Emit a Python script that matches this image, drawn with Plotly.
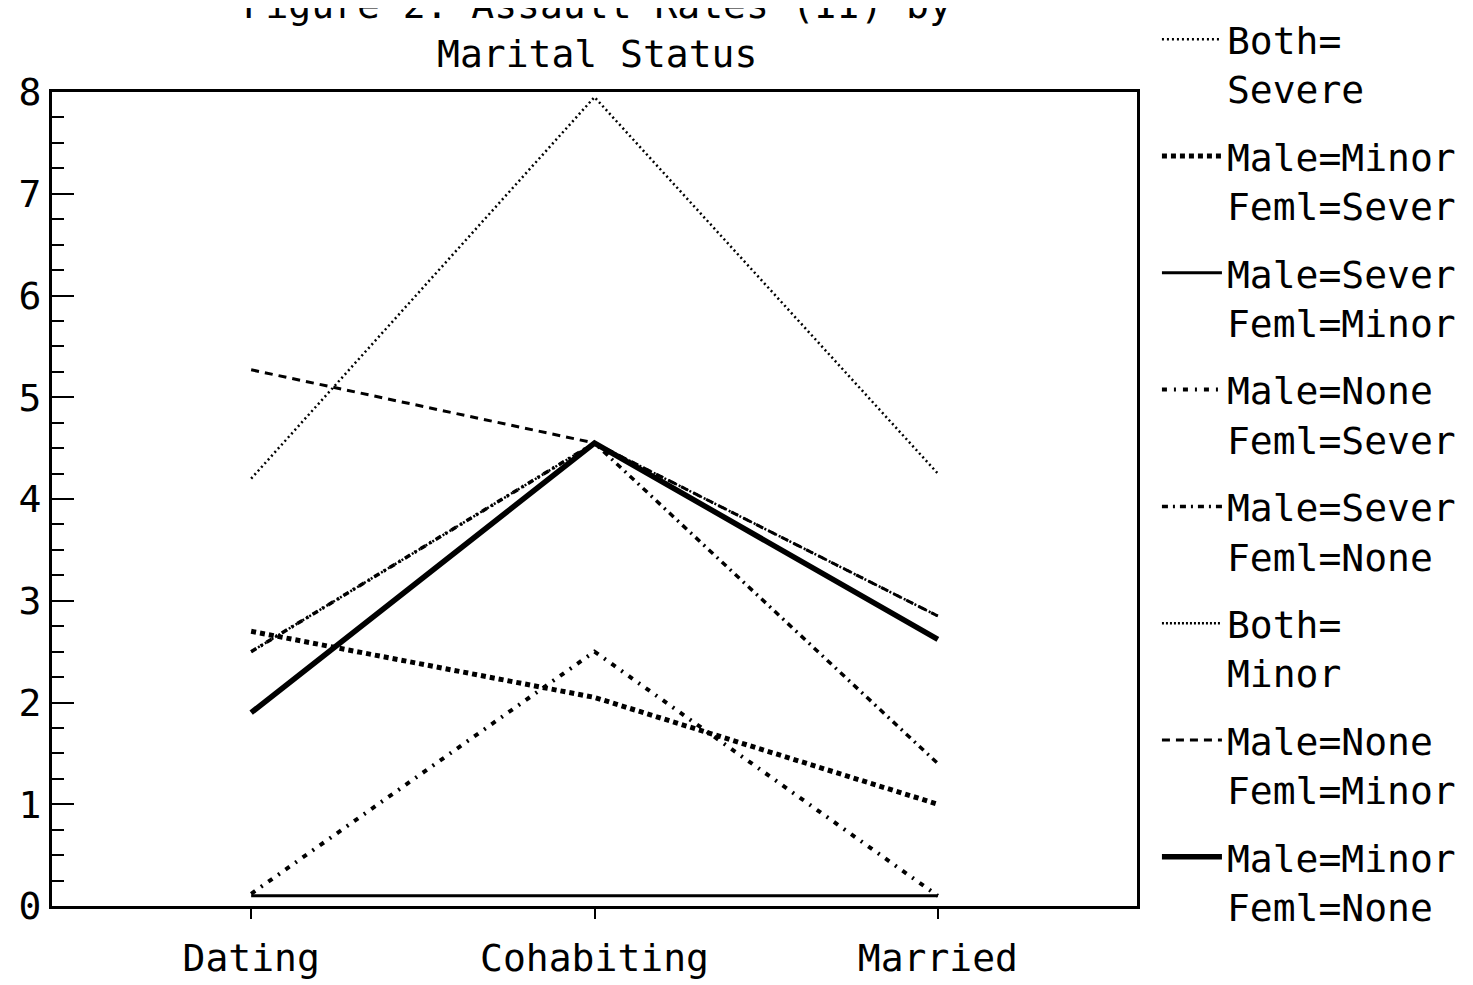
import plotly.graph_objects as go

categories = ["Dating", "Cohabiting", "Married"]
x_idx = [0, 1, 2]

series_names = [
    "Both=<br>Severe",
    "Male=Minor<br>Feml=Sever",
    "Male=Sever<br>Feml=Minor",
    "Male=None<br>Feml=Sever",
    "Male=Sever<br>Feml=None",
    "Both=<br>Minor",
    "Male=None<br>Feml=Minor",
    "Male=Minor<br>Feml=None",
]

both_severe = [4.2, 7.95, 4.25]
male_minor_feml_sever = [2.7, 2.05, 1.0]
male_sever_feml_minor = [0.1, 0.1, 0.1]
male_none_feml_sever = [0.12, 2.5, 0.1]
male_sever_feml_none = [2.5, 4.55, 1.4]
both_minor = [2.5, 4.55, 2.85]
male_none_feml_minor = [5.27, 4.55, 2.85]
male_minor_feml_none = [1.9, 4.55, 2.62]

series_values = [
    both_severe,
    male_minor_feml_sever,
    male_sever_feml_minor,
    male_none_feml_sever,
    male_sever_feml_none,
    both_minor,
    male_none_feml_minor,
    male_minor_feml_none,
]

line_styles = [
    dict(width=2.5, dash="2px,3px"),
    dict(width=5, dash="5px,4px"),
    dict(width=3, dash="solid"),
    dict(width=4, dash="5px,7px,2px,7px"),
    dict(width=3.5, dash="6px,5px,2px,5px"),
    dict(width=2.5, dash="2px,2px"),
    dict(width=3, dash="8px,6px"),
    dict(width=5.5, dash="solid"),
]

FONT = "DejaVu Sans Mono"

fig = go.Figure()
for i, (name, vals, st) in enumerate(zip(series_names, series_values, line_styles)):
    fig.add_trace(go.Scatter(
        x=x_idx, y=vals, mode="lines", name=name,
        legendgroup=f"g{i}",
        line=dict(color="black", width=st["width"], dash=st["dash"]),
    ))

fig.update_layout(
    width=1473, height=985,
    paper_bgcolor="white", plot_bgcolor="white",
    margin=dict(l=44, r=344, t=84, b=87, autoexpand=False),
    font=dict(family=FONT, size=38, color="black"),
    title=dict(
        text="Figure 2. Assault Rates (II) by<br>Marital Status",
        x=0.400, xanchor="center",
        y=0.99, yanchor="middle", yref="container",
        font=dict(family=FONT, size=38, color="black"),
    ),
    legend=dict(
        x=0.780, xanchor="left", xref="container",
        y=1.015, yanchor="top", yref="container",
        valign="top",
        maxheight=1,
        tracegroupgap=15,
        itemwidth=60,
        bgcolor="rgba(0,0,0,0)",
        font=dict(family=FONT, size=38, color="black"),
    ),
    showlegend=True,
)

fig.update_xaxes(
    tickmode="array", tickvals=x_idx, ticktext=categories,
    range=[-0.58, 2.58],
    showline=True, linecolor="black", linewidth=3, mirror=True,
    ticks="outside", ticklen=10, tickwidth=2, tickcolor="black",
    ticklabelstandoff=6,
    showgrid=False, zeroline=False,
    tickfont=dict(family=FONT, size=38),
)
fig.update_yaxes(
    range=[0, 8], dtick=1,
    showline=True, linecolor="black", linewidth=3, mirror=True,
    ticks="inside", ticklen=22, tickwidth=2, tickcolor="black",
    minor=dict(dtick=0.25, ticks="inside", ticklen=12, tickwidth=2, tickcolor="black", showgrid=False),
    showgrid=False, zeroline=False,
    tickfont=dict(family=FONT, size=38),
)

fig.write_html("out.html")
